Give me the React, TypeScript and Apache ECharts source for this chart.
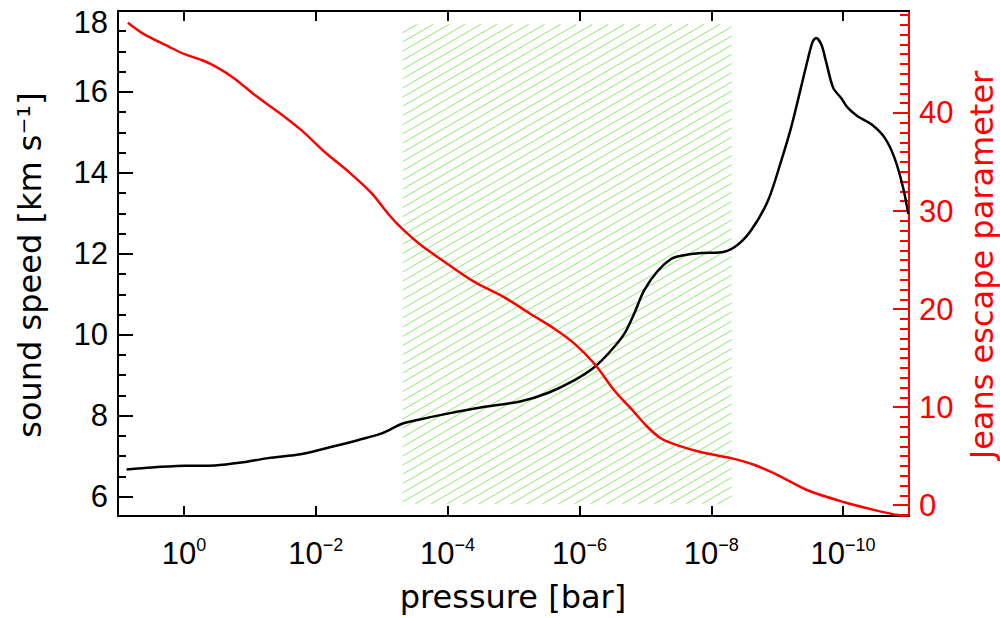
import React, { useEffect, useRef } from "react";
import * as echarts from "echarts";

// log10(pressure / bar) and sound speed [km/s]
const soundLogP = [0.87, 0.49, -0.01, -0.47, -0.87, -1.28, -1.79, -2.24, -2.65, -3.0, -3.31, -3.56, -4.0, -4.5, -5.1, -5.52, -5.92, -6.23, -6.48, -6.68, -6.83, -6.98, -7.19, -7.39, -7.54, -7.85, -8.12, -8.35, -8.6, -8.86, -9.06, -9.21, -9.36, -9.47, -9.54, -9.59, -9.67, -9.74, -9.85, -9.97, -10.07, -10.22, -10.43, -10.63, -10.78, -10.91, -10.99];
const soundSpeed = [6.67, 6.72, 6.76, 6.77, 6.84, 6.95, 7.05, 7.23, 7.4, 7.56, 7.8, 7.9, 8.05, 8.2, 8.35, 8.56, 8.87, 9.2, 9.61, 10.02, 10.52, 11.09, 11.58, 11.87, 11.95, 12.02, 12.03, 12.16, 12.57, 13.31, 14.29, 15.11, 16.1, 16.84, 17.25, 17.33, 17.17, 16.76, 16.1, 15.85, 15.61, 15.4, 15.2, 14.87, 14.37, 13.64, 12.98];

// log10(pressure / bar) and Jeans escape parameter
const jeansLogP = [0.85, 0.62, 0.21, -0.01, -0.27, -0.49, -0.77, -1.08, -1.43, -1.79, -2.14, -2.5, -2.85, -3.1, -3.31, -3.6, -4.0, -4.4, -4.86, -5.26, -5.62, -5.92, -6.23, -6.53, -6.83, -7.03, -7.24, -7.49, -7.85, -8.3, -8.66, -9.06, -9.47, -10.02, -10.48, -10.83, -10.99];
const jeansParam = [49.2, 48.1, 46.7, 46.0, 45.4, 44.7, 43.5, 41.8, 40.1, 38.2, 36.0, 34.0, 31.8, 29.7, 28.2, 26.5, 24.6, 22.8, 21.2, 19.5, 18.0, 16.5, 14.4, 11.7, 9.5, 8.0, 6.8, 6.1, 5.4, 4.8, 4.1, 2.9, 1.5, 0.3, -0.5, -1.0, -1.05];

// hatched region: [logP from, logP to, speed low, speed high]
const hatchRegion = [-3.32, -8.31, 5.82, 17.67];

// tick values
const xTicks = [0, -2, -4, -6, -8, -10];
const leftMajor = [6, 8, 10, 12, 14, 16, 18];
const leftMinor = [6.5, 7, 7.5, 8.5, 9, 9.5, 10.5, 11, 11.5, 12.5, 13, 13.5, 14.5, 15, 15.5, 16.5, 17, 17.5];
const rightLabels = [0, 10, 20, 30, 40];
const rightMinor = [-1, 1, 2, 3, 4, 5, 6, 7, 8, 9, 11, 12, 13, 14, 15, 16, 17, 18, 19, 21, 22, 23, 24, 25, 26, 27, 28, 29, 31, 32, 33, 34, 35, 36, 37, 38, 39, 41, 42, 43, 44, 45, 46, 47, 48, 49, 50];

const TICK_FONT = "Liberation Sans";
const NAME_FONT = "DejaVu Sans";

export default function App() {
  const ref = useRef<HTMLDivElement>(null);
  useEffect(() => {
    if (!ref.current) return;
    const chart = echarts.init(ref.current, null, { renderer: "svg" });
    const xBase = {
      type: "value",
      min: -11,
      max: 1,
      inverse: true,
      splitLine: { show: false },
      axisLine: { show: true, onZero: false, lineStyle: { color: "#000", width: 2 } },
      axisTick: { show: true, inside: true, length: 10, customValues: xTicks, lineStyle: { color: "#000", width: 2 } },
    };
    const option: any = {
      animation: false,
      backgroundColor: "#fff",
      grid: { left: 118, right: 91, top: 11, bottom: 102, containLabel: false },
      xAxis: [
        {
          ...xBase,
          position: "bottom",
          axisLabel: {
            show: true,
            customValues: xTicks,
            margin: 20,
            formatter: (v: number) => `{b|10}{s|${v === 0 ? "0" : "\u2212" + Math.abs(v)}}`,
            rich: {
              b: { fontFamily: TICK_FONT, fontSize: 31, lineHeight: 34, color: "#000" },
              s: { fontFamily: TICK_FONT, fontSize: 18, lineHeight: 16, verticalAlign: "top", color: "#000" },
            },
          },
        },
        { ...xBase, position: "top", axisLabel: { show: false } },
      ],
      yAxis: [
        {
          type: "value",
          position: "left",
          min: 5.52,
          max: 18,
          splitLine: { show: false },
          axisLine: { show: true, onZero: false, lineStyle: { color: "#000", width: 2 } },
          axisTick: { show: true, inside: true, length: 15, customValues: leftMajor, lineStyle: { color: "#000", width: 2 } },
          axisLabel: {
            show: true,
            customValues: leftMajor,
            margin: 10,
            fontFamily: TICK_FONT,
            fontSize: 31,
            color: "#000",
            formatter: (v: number) => (v === 18 ? `{t|${v}}` : `${v}`),
            rich: { t: { fontFamily: TICK_FONT, fontSize: 31, color: "#000", padding: [22, 0, 0, 0] } },
          },
        },
        {
          type: "value",
          position: "right",
          min: -1.1,
          max: 50.4,
          splitLine: { show: false },
          axisLine: { show: true, onZero: false, lineStyle: { color: "#ff0000", width: 2 } },
          axisTick: { show: true, inside: true, length: 16, customValues: rightLabels, lineStyle: { color: "#ff0000", width: 2 } },
          axisLabel: { show: true, customValues: rightLabels, margin: 10, fontFamily: TICK_FONT, fontSize: 31, color: "#ff0000" },
        },
        {
          type: "value",
          position: "left",
          min: 5.52,
          max: 18,
          splitLine: { show: false },
          axisLine: { show: false, onZero: false },
          axisTick: { show: true, inside: true, length: 8, customValues: leftMinor, lineStyle: { color: "#000", width: 2 } },
          axisLabel: { show: false },
        },
        {
          type: "value",
          position: "right",
          min: -1.1,
          max: 50.4,
          splitLine: { show: false },
          axisLine: { show: false, onZero: false },
          axisTick: { show: true, inside: true, length: 9, customValues: rightMinor, lineStyle: { color: "#ff0000", width: 2 } },
          axisLabel: { show: false },
        },
      ],
      graphic: [
        {
          type: "text",
          x: 30,
          y: 265,
          rotation: Math.PI / 2,
          style: { text: "sound speed [km s\u207B\u00B9]", fontFamily: NAME_FONT, fontSize: 32, fill: "#000", align: "center", verticalAlign: "middle" },
        },
        {
          type: "text",
          x: 982,
          y: 265,
          rotation: Math.PI / 2,
          style: { text: "Jeans escape parameter", fontFamily: NAME_FONT, fontSize: 32, fill: "#ff0000", align: "center", verticalAlign: "middle" },
        },
        {
          type: "text",
          x: 513,
          y: 597,
          style: { text: "pressure [bar]", fontFamily: NAME_FONT, fontSize: 32, fill: "#000", align: "center", verticalAlign: "middle" },
        },
      ],
      series: [
        {
          type: "custom",
          xAxisIndex: 0,
          yAxisIndex: 0,
          silent: true,
          z: 1,
          encode: { x: [0, 1], y: [2, 3] },
          data: [hatchRegion],
          renderItem: (params: any, api: any) => {
            const a = api.coord([api.value(0), api.value(3)]);
            const b = api.coord([api.value(1), api.value(2)]);
            const L = Math.min(a[0], b[0]);
            const R = Math.max(a[0], b[0]);
            const T = Math.min(a[1], b[1]);
            const B = Math.max(a[1], b[1]);
            const m = Math.tan(Math.PI / 6);
            const step = 9.2;
            const children: any[] = [];
            for (let c = T + step * 0.9; c < B + m * (R - L); c += step) {
              const x1 = Math.max(L, L + (c - B) / m);
              const x2 = Math.min(R, L + (c - T) / m);
              if (x2 <= x1) continue;
              children.push({
                type: "line",
                shape: { x1, y1: c - m * (x1 - L), x2, y2: c - m * (x2 - L) },
                style: { stroke: "#8aea72", lineWidth: 1 },
              });
            }
            return { type: "group", children };
          },
        },
        {
          type: "line",
          name: "sound speed",
          xAxisIndex: 0,
          yAxisIndex: 0,
          z: 3,
          showSymbol: false,
          smooth: 0.3,
          data: soundLogP.map((p, i) => [p, soundSpeed[i]]),
          lineStyle: { color: "#000", width: 2.5 },
          itemStyle: { color: "#000" },
        },
        {
          type: "line",
          name: "Jeans escape parameter",
          xAxisIndex: 0,
          yAxisIndex: 1,
          z: 4,
          showSymbol: false,
          smooth: 0.3,
          data: jeansLogP.map((p, i) => [p, jeansParam[i]]),
          lineStyle: { color: "#ff0000", width: 2.5 },
          itemStyle: { color: "#ff0000" },
        },
      ],
    };
    chart.setOption(option);
    return () => chart.dispose();
  }, []);
  return <div ref={ref} style={{ position: "absolute", left: 0, top: 0, width: 1000, height: 618 }} />;
}
